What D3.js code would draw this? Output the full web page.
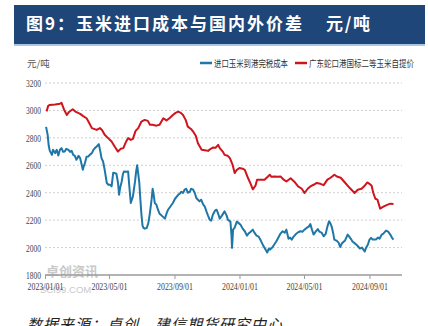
<!DOCTYPE html>
<html>
<head>
<meta charset="utf-8">
<script src="https://cdn.jsdelivr.net/npm/d3@7/dist/d3.min.js"></script>
<style>
  html, body { margin: 0; padding: 0; background: #fff; }
  svg { display: block; }
</style>
</head>
<body>
<svg id="chart" width="428" height="326"></svg>
<script>
// ---- data -------------------------------------------------------------
const titleText = "图9：玉米进口成本与国内外价差";
const titleUnit = "元/吨";
const unitLabel = "元/吨";
const sourceText = "数据来源：卓创，建信期货研究中心";
const seriesNames = ["进口玉米到港完税成本", "广东蛇口港国标二等玉米自提价"];
const yTicks = [1800, 2000, 2200, 2400, 2600, 2800, 3000, 3200];
const xTicks = ["2023-01-01", "2023-05-01", "2023-09-01", "2024-01-01", "2024-05-01", "2024-09-01"];

// imported corn landed duty-paid cost (元/吨)
const importCost = [
  ["2023-01-03",2880],["2023-01-06",2822],["2023-01-08",2742],["2023-01-10",2705],["2023-01-14",2676],
  ["2023-01-16",2713],["2023-01-20",2689],["2023-01-23",2713],["2023-01-26",2671],["2023-01-29",2713],
  ["2023-02-01",2725],["2023-02-04",2698],["2023-02-07",2700],["2023-02-10",2720],["2023-02-14",2713],
  ["2023-02-17",2698],["2023-02-20",2705],["2023-02-23",2676],["2023-02-26",2669],["2023-03-01",2640],
  ["2023-03-05",2669],["2023-03-08",2652],["2023-03-10",2618],["2023-03-13",2567],["2023-03-15",2596],
  ["2023-03-17",2616],["2023-03-20",2662],["2023-03-23",2664],["2023-03-26",2676],["2023-03-30",2689],
  ["2023-04-02",2713],["2023-04-05",2727],["2023-04-08",2737],["2023-04-12",2754],["2023-04-15",2698],
  ["2023-04-17",2652],["2023-04-20",2628],["2023-04-23",2567],["2023-04-27",2471],["2023-04-30",2458],
  ["2023-05-03",2458],["2023-05-06",2446],["2023-05-09",2545],["2023-05-12",2543],["2023-05-15",2538],
  ["2023-05-18",2473],["2023-05-20",2385],["2023-05-22",2436],["2023-05-25",2482],["2023-05-27",2531],
  ["2023-05-29",2555],["2023-06-02",2553],["2023-06-06",2555],["2023-06-08",2458],["2023-06-11",2325],
  ["2023-06-13",2349],["2023-06-15",2373],["2023-06-19",2482],["2023-06-21",2553],["2023-06-23",2600],
  ["2023-06-25",2538],["2023-06-27",2471],["2023-06-29",2349],["2023-07-01",2240],["2023-07-03",2160],
  ["2023-07-05",2143],["2023-07-07",2138],["2023-07-11",2143],["2023-07-14",2180],["2023-07-17",2255],
  ["2023-07-20",2349],["2023-07-22",2429],["2023-07-24",2385],["2023-07-26",2325],["2023-07-29",2313],
  ["2023-08-01",2276],["2023-08-04",2247],["2023-08-08",2233],["2023-08-14",2211],["2023-08-17",2247],
  ["2023-08-20",2276],["2023-08-24",2298],["2023-08-29",2325],["2023-09-02",2356],["2023-09-08",2385],
  ["2023-09-11",2393],["2023-09-14",2407],["2023-09-17",2398],["2023-09-20",2422],["2023-09-23",2429],
  ["2023-09-26",2400],["2023-09-30",2407],["2023-10-02",2429],["2023-10-06",2422],["2023-10-09",2400],
  ["2023-10-12",2361],["2023-10-15",2349],["2023-10-18",2337],["2023-10-21",2349],["2023-10-25",2313],
  ["2023-10-28",2298],["2023-10-31",2264],["2023-11-03",2233],["2023-11-06",2204],["2023-11-09",2196],
  ["2023-11-12",2240],["2023-11-16",2269],["2023-11-19",2276],["2023-11-22",2247],["2023-11-25",2211],
  ["2023-11-29",2233],["2023-12-04",2264],["2023-12-08",2233],["2023-12-10",2204],["2023-12-15",2189],
  ["2023-12-17",2087],["2023-12-18",1998],["2023-12-20",2131],["2023-12-23",2145],["2023-12-27",2189],
  ["2023-12-30",2180],["2024-01-03",2167],["2024-01-07",2138],["2024-01-11",2119],["2024-01-15",2087],
  ["2024-01-18",2102],["2024-01-22",2116],["2024-01-26",2131],["2024-01-29",2109],["2024-02-02",2087],
  ["2024-02-06",2080],["2024-02-10",2051],["2024-02-15",2011],["2024-02-19",1985],["2024-02-22",1964],
  ["2024-02-25",1993],["2024-02-27",1985],["2024-03-02",1998],["2024-03-05",2015],["2024-03-10",2044],
  ["2024-03-14",2073],["2024-03-18",2102],["2024-03-22",2119],["2024-03-26",2109],["2024-03-29",2131],
  ["2024-04-02",2065],["2024-04-05",2073],["2024-04-08",2058],["2024-04-12",2082],["2024-04-15",2095],
  ["2024-04-19",2109],["2024-04-24",2119],["2024-04-28",2116],["2024-05-02",2131],["2024-05-06",2143],
  ["2024-05-10",2153],["2024-05-13",2171],["2024-05-16",2131],["2024-05-19",2095],["2024-05-23",2116],
  ["2024-05-27",2135],["2024-05-30",2116],["2024-06-03",2109],["2024-06-07",2082],["2024-06-11",2102],
  ["2024-06-14",2153],["2024-06-17",2191],["2024-06-19",2182],["2024-06-22",2153],["2024-06-25",2102],
  ["2024-06-27",2058],["2024-07-01",2051],["2024-07-05",2036],["2024-07-08",2004],["2024-07-11",2029],
  ["2024-07-17",2051],["2024-07-22",2095],["2024-07-25",2080],["2024-07-29",2058],["2024-07-31",2044],
  ["2024-08-05",2029],["2024-08-09",2015],["2024-08-14",1993],["2024-08-18",2000],["2024-08-23",1971],
  ["2024-08-25",1993],["2024-08-29",2022],["2024-09-01",2058],["2024-09-04",2071],["2024-09-07",2058],
  ["2024-09-13",2058],["2024-09-17",2073],["2024-09-20",2065],["2024-09-24",2095],["2024-09-27",2102],
  ["2024-10-02",2124],["2024-10-06",2116],["2024-10-10",2095],["2024-10-13",2073],["2024-10-16",2058]
];

// Shekou port (Guangdong) grade-2 corn ex-warehouse price (元/吨)
const shekouPrice = [
  ["2023-01-04",2993],["2023-01-07",3033],["2023-01-10",3040],["2023-01-20",3044],["2023-01-29",3049],
  ["2023-02-01",3055],["2023-02-06",3004],["2023-02-11",2967],["2023-02-15",2989],["2023-02-22",3009],
  ["2023-02-28",2989],["2023-03-08",2975],["2023-03-13",2960],["2023-03-20",2943],["2023-03-24",2916],
  ["2023-03-30",2871],["2023-04-08",2858],["2023-04-14",2871],["2023-04-18",2858],["2023-04-23",2822],
  ["2023-04-29",2800],["2023-05-06",2773],["2023-05-12",2735],["2023-05-18",2700],["2023-05-23",2720],
  ["2023-05-28",2725],["2023-06-02",2771],["2023-06-06",2798],["2023-06-11",2785],["2023-06-15",2793],
  ["2023-06-20",2851],["2023-06-25",2871],["2023-07-01",2919],["2023-07-07",2931],["2023-07-13",2924],
  ["2023-07-17",2895],["2023-07-22",2895],["2023-07-29",2889],["2023-08-04",2895],["2023-08-11",2943],
  ["2023-08-17",2927],["2023-08-23",2945],["2023-08-29",2967],["2023-09-03",2982],["2023-09-08",2991],
  ["2023-09-13",2982],["2023-09-17",2967],["2023-09-22",2931],["2023-09-26",2882],["2023-10-02",2865],
  ["2023-10-06",2846],["2023-10-11",2815],["2023-10-15",2761],["2023-10-22",2713],["2023-10-28",2709],
  ["2023-11-03",2705],["2023-11-08",2720],["2023-11-12",2729],["2023-11-17",2727],["2023-11-22",2749],
  ["2023-11-25",2725],["2023-12-01",2698],["2023-12-04",2676],["2023-12-10",2669],["2023-12-14",2652],
  ["2023-12-19",2604],["2023-12-23",2543],["2023-12-27",2567],["2024-01-01",2580],["2024-01-07",2575],
  ["2024-01-11",2567],["2024-01-17",2507],["2024-01-22",2465],["2024-01-26",2425],["2024-01-31",2451],
  ["2024-02-03",2495],["2024-02-10",2495],["2024-02-17",2495],["2024-02-23",2516],["2024-02-27",2531],
  ["2024-03-01",2516],["2024-03-07",2519],["2024-03-13",2516],["2024-03-18",2519],["2024-03-24",2495],
  ["2024-03-29",2482],["2024-04-06",2505],["2024-04-13",2480],["2024-04-20",2446],["2024-04-27",2429],
  ["2024-05-02",2398],["2024-05-08",2429],["2024-05-13",2446],["2024-05-19",2458],["2024-05-25",2471],
  ["2024-06-01",2465],["2024-06-07",2455],["2024-06-14",2495],["2024-06-20",2509],["2024-06-27",2531],
  ["2024-07-03",2516],["2024-07-09",2509],["2024-07-16",2478],["2024-07-26",2434],["2024-08-04",2398],
  ["2024-08-10",2422],["2024-08-17",2429],["2024-08-23",2451],["2024-08-28",2475],["2024-09-01",2465],
  ["2024-09-05",2451],["2024-09-08",2400],["2024-09-12",2356],["2024-09-16",2349],["2024-09-21",2284],
  ["2024-09-27",2298],["2024-10-03",2309],["2024-10-10",2320],["2024-10-16",2318]
];

const seriesColors = ["#1f77a8", "#d0141c"];

// ---- drawing ----------------------------------------------------------
const parse = d3.timeParse("%Y-%m-%d");
const svg = d3.select("#chart");

// title banner
svg.append("rect").attr("x", 14).attr("y", 5).attr("width", 411).attr("height", 39)
  .attr("fill", "#1f4678");
svg.append("rect").attr("x", 14).attr("y", 44).attr("width", 411).attr("height", 2)
  .attr("fill", "#a9c6e6");
const titleG = svg.append("g")
  .attr("fill", "#ffffff")
  .attr("font-family", "Noto Sans CJK SC")
  .attr("font-weight", "bold")
  .attr("font-size", 17);
titleG.append("text").attr("x", 26).attr("y", 30)
  .attr("textLength", 276).attr("lengthAdjust", "spacing")
  .text(titleText);
titleG.append("text").attr("x", 326).attr("y", 30)
  .attr("textLength", 44).attr("lengthAdjust", "spacing")
  .text(titleUnit);

const margin = { left: 45, right: 402, top: 83, bottom: 275 };
const x = d3.scaleTime()
  .domain([parse("2023-01-01"), parse("2024-11-01")])
  .range([margin.left, margin.right]);
const y = d3.scaleLinear()
  .domain([1800, 3200])
  .range([margin.bottom, margin.top]);

// watermark
const wm = svg.append("g").attr("fill", "#c9c9c9");
wm.append("text").attr("x", 46).attr("y", 276)
  .attr("font-family", "Noto Sans CJK SC").attr("font-weight", "bold").attr("font-size", 13)
  .text("卓创资讯");
wm.append("text").attr("x", 40).attr("y", 293)
  .attr("font-family", "Liberation Sans").attr("font-size", 9.5)
  .text("SCI99.COM");

// horizontal dashed grid
svg.append("g").selectAll("line")
  .data(yTicks.filter(v => v > 1800))
  .join("line")
  .attr("x1", margin.left).attr("x2", margin.right)
  .attr("y1", d => y(d)).attr("y2", d => y(d))
  .attr("stroke", "#cfcfcf").attr("stroke-width", 1)
  .attr("stroke-dasharray", "2,2");

// y axis labels
const yAxis = svg.append("g")
  .attr("transform", `translate(${margin.left - 4},0)`)
  .call(d3.axisLeft(y).tickValues(yTicks).tickSize(0).tickPadding(0).tickFormat(d3.format("d")));
yAxis.select(".domain").remove();
yAxis.selectAll("text")
  .attr("font-family", "Liberation Serif").attr("font-size", 11)
  .attr("fill", "#444")
  .attr("textLength", 15).attr("lengthAdjust", "spacingAndGlyphs");

// unit label
svg.append("text").attr("x", 27).attr("y", 67)
  .attr("font-family", "Noto Sans CJK SC").attr("font-size", 9.5)
  .attr("fill", "#555")
  .text(unitLabel);

// x axis
const xAxis = svg.append("g")
  .attr("transform", `translate(0,${margin.bottom})`)
  .call(d3.axisBottom(x).tickValues(xTicks.map(parse)).tickSize(4).tickPadding(3)
    .tickFormat(d3.timeFormat("%Y/%m/%d")));
xAxis.select(".domain").attr("stroke", "#9a9a9a").attr("stroke-width", 1.5)
  .attr("d", `M${margin.left},0H${margin.right}`);
xAxis.selectAll(".tick line").attr("stroke", "#9a9a9a");
xAxis.selectAll("text")
  .attr("font-family", "Liberation Serif").attr("font-size", 11)
  .attr("fill", "#444")
  .attr("textLength", 36).attr("lengthAdjust", "spacingAndGlyphs");

// series lines
const line = d3.line()
  .x(d => x(parse(d[0])))
  .y(d => y(d[1]));
[importCost, shekouPrice].forEach((s, i) => {
  svg.append("path").datum(s)
    .attr("fill", "none")
    .attr("stroke", seriesColors[i])
    .attr("stroke-width", 2)
    .attr("stroke-linejoin", "round")
    .attr("d", line);
});

// legend
const legendItems = [
  { x: 200, w: 74, name: seriesNames[0], color: seriesColors[0] },
  { x: 295, w: 105, name: seriesNames[1], color: seriesColors[1] }
];
const lg = svg.append("g");
legendItems.forEach(it => {
  lg.append("line").attr("x1", it.x).attr("x2", it.x + 12)
    .attr("y1", 63).attr("y2", 63)
    .attr("stroke", it.color).attr("stroke-width", 2.5);
  lg.append("text").attr("x", it.x + 14).attr("y", 66.5)
    .attr("font-family", "Noto Sans CJK SC").attr("font-size", 9.5)
    .attr("fill", "#333")
    .attr("textLength", it.w).attr("lengthAdjust", "spacingAndGlyphs")
    .text(it.name);
});

// source note
svg.append("text").attr("x", 27).attr("y", 330)
  .attr("font-family", "Noto Sans CJK SC").attr("font-size", 15)
  .attr("font-style", "italic")
  .attr("letter-spacing", 1)
  .attr("fill", "#222")
  .text(sourceText);
</script>
</body>
</html>
